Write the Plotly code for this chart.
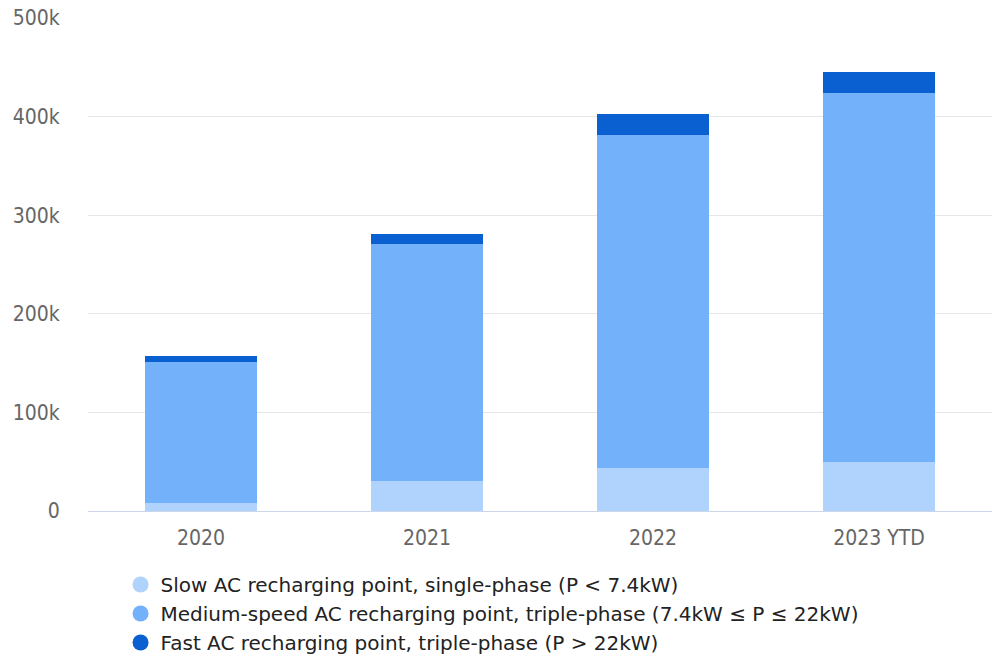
import plotly.graph_objects as go

years = ["2020", "2021", "2022", "2023 YTD"]
slow_ac = [7800, 30500, 44000, 50000]
medium_ac = [143600, 240500, 337800, 373500]
fast_ac = [5400, 10200, 20600, 21300]

names = [
    "Slow AC recharging point, single-phase (P < 7.4kW)",
    "Medium-speed AC recharging point, triple-phase (7.4kW ≤ P ≤ 22kW)",
    "Fast AC recharging point, triple-phase (P > 22kW)",
]
colors = ["#afd3fc", "#73b1fb", "#0a5fd1"]
series = [slow_ac, medium_ac, fast_ac]

fig = go.Figure()
for name, vals, col in zip(names, series, colors):
    fig.add_trace(go.Bar(x=years, y=vals, name=name, marker_color=col,
                         marker_line_width=0, showlegend=False, hoverinfo="skip"))

# circle legend entries
for name, col in zip(names, colors):
    fig.add_trace(go.Scatter(x=[None], y=[None], mode="markers", name=name,
                             marker=dict(symbol="circle", size=17, color=col)))

tick_font = dict(family="DejaVu Sans Condensed", size=21, color="#666666")

fig.update_layout(
    width=992, height=657,
    margin=dict(l=88, r=0, t=18, b=146),
    barmode="stack", bargap=0.505,
    plot_bgcolor="white", paper_bgcolor="white",
    font=dict(family="DejaVu Sans Condensed", color="#666666", size=18),
    legend=dict(orientation="v", traceorder="normal",
                x=0.036, xanchor="left", xref="paper",
                y=0.14, yanchor="top", yref="container",
                font=dict(family="DejaVu Sans", size=20, color="#222222"),
                itemsizing="trace", tracegroupgap=0, bgcolor="rgba(0,0,0,0)"),
    xaxis=dict(showgrid=False, showline=True, linecolor="#ccd6eb", linewidth=1,
               ticks="outside", ticklen=8, tickcolor="rgba(0,0,0,0)",
               tickfont=tick_font, automargin=False),
    yaxis=dict(range=[0, 500000], tickvals=[0, 100000, 200000, 300000, 400000, 500000],
               ticktext=["0", "100k", "200k", "300k", "400k", "500k"],
               showgrid=True, gridcolor="#e6e6e6", gridwidth=1, zeroline=False,
               ticks="outside", ticklen=23, tickcolor="rgba(0,0,0,0)",
               tickfont=tick_font, automargin=False),
)

fig.write_html("out.html")
